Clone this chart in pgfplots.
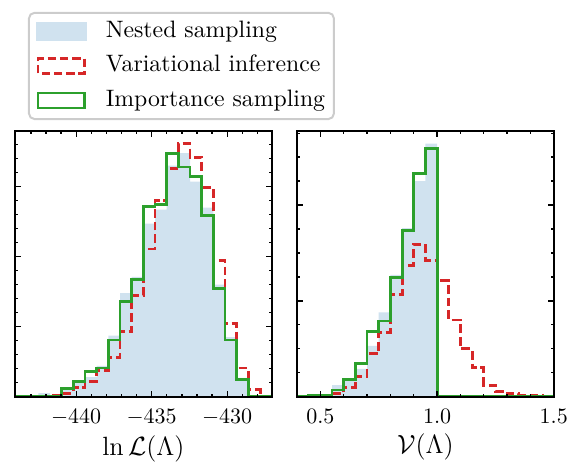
\documentclass[border=0pt]{standalone}
\usepackage{pgfplots}
\usepackage{pgfplotstable}
\pgfplotsset{compat=1.18}
\definecolor{nsfill}{RGB}{208,226,239}
\definecolor{vired}{RGB}{214,39,40}
\definecolor{isgreen}{RGB}{44,160,44}

% bin left edges; last row closes the histogram
\pgfplotstableread{
x        ns     vi     is
-444.050 0.005  0.000  0.000
-443.277 0.010  0.005  0.005
-442.505 0.050  0.010  0.010
-441.732 0.020  0.020  0.010
-440.959 0.100  0.050  0.120
-440.186 0.210  0.130  0.220
-439.414 0.280  0.220  0.360
-438.641 0.440  0.370  0.410
-437.868 0.870  0.560  0.810
-437.095 1.480  0.930  1.360
-436.323 1.710  1.450  1.670
-435.550 2.470  2.110  2.710
-434.777 2.670  2.800  2.740
-434.005 3.300  3.260  3.470
-433.232 3.480  3.620  3.280
-432.459 3.070  3.420  3.140
-431.686 2.700  2.990  2.590
-430.914 1.600  1.950  1.550
-430.141 0.850  1.040  0.810
-429.368 0.270  0.410  0.250
-428.595 0.020  0.100  0.010
-427.823 0.000  0.010  0.000
-427.050 0      0      0
}\lnLtable

\pgfplotstableread{
x     ns     vi     is
0.40  0.000  0.000  0.000
0.45  0.010  0.003  0.014
0.50  0.020  0.010  0.014
0.55  0.120  0.030  0.070
0.60  0.170  0.100  0.180
0.65  0.290  0.210  0.350
0.70  0.530  0.450  0.680
0.75  0.880  0.670  0.790
0.80  1.270  1.070  1.240
0.85  1.760  1.370  1.730
0.90  2.250  1.590  2.330
0.95  2.640  1.420  2.590
1.00  0      1.210  0
1.05  0      0.800  0
1.10  0      0.500  0
1.15  0      0.300  0
1.20  0      0.120  0
1.25  0      0.050  0
1.30  0      0.030  0
1.35  0      0.014  0
1.40  0      0.010  0
1.45  0      0.005  0
1.50  0      0      0
}\Vtable

\pgfplotsset{
  histaxis/.style={
    scale only axis, width=116.7pt, height=120.8pt,
    axis on top,
    axis line style={line width=0.9pt},
    tick align=inside, tick pos=both,
    major tick length=2.6pt, minor tick length=1.3pt,
    every tick/.style={black, line width=0.6pt},
    yticklabels={},
    xticklabel style={yshift=-2.2pt},
    xlabel style={font=\large, yshift=2pt},
  },
  nsstyle/.style={const plot, fill=nsfill, draw=none, forget plot},
  vistyle/.style={const plot, vired, line width=1.3pt, line join=miter, dash pattern=on 4pt off 1.8pt, forget plot},
  isstyle/.style={const plot, isgreen, line width=1.3pt, line join=miter, forget plot},
}

\begin{document}
\begin{tikzpicture}
\path[use as bounding box] (-6.82pt,-31.05pt) rectangle (255pt,180.3pt);

\begin{axis}[histaxis,
  at={(0pt,0pt)}, anchor=south west,
  xmin=-444.05, xmax=-427.05, ymin=0, ymax=3.796,
  xtick={-440,-435,-430},
  minor xtick={-444,-443,-442,-441,-439,-438,-437,-436,-434,-433,-432,-431,-429,-428},
  ytick={0,1,2,3},
  minor ytick={0.2,0.4,0.6,0.8,1.2,1.4,1.6,1.8,2.2,2.4,2.6,2.8,3.2,3.4,3.6},
  xlabel={$\ln\mathcal{L}(\Lambda)$},
  legend cell align=left,
  legend style={at={(0.0506,1.448)}, anchor=north west,
    draw=black!20, line width=0.9pt, rounded corners=2.5pt, fill=white,
    font=\fontsize{10.8}{12}\selectfont, row sep=3.6pt, column sep=7.6pt,
    inner xsep=3pt, inner ysep=2.4pt,
    nodes={inner sep=1pt, text height=7.6pt, text depth=2.5pt}},
]
\addlegendimage{legend image code/.code={\fill[nsfill, sharp corners] (0pt,-3.8pt) rectangle (22.4pt,3.8pt);}}
\addlegendentry{Nested sampling}
\addlegendimage{legend image code/.code={\draw[vired, sharp corners, line width=1.3pt, dash pattern=on 3.8pt off 1.8pt] (0.65pt,-3.4pt) rectangle (21.75pt,3.4pt);}}
\addlegendentry{Variational inference}
\addlegendimage{legend image code/.code={\draw[isgreen, sharp corners, line width=1.3pt] (0.65pt,-3.4pt) rectangle (21.75pt,3.4pt);}}
\addlegendentry{Importance sampling}

\addplot[nsstyle] table[x=x, y=ns] {\lnLtable} \closedcycle;
\addplot[vistyle] table[x=x, y=vi] {\lnLtable};
\addplot[isstyle] table[x=x, y=is] {\lnLtable};
\end{axis}

\begin{axis}[histaxis,
  at={(128.2pt,0pt)}, anchor=south west,
  xmin=0.4, xmax=1.5, ymin=0, ymax=2.774,
  xtick={0.5,1.0,1.5},
  minor xtick={0.6,0.7,0.8,0.9,1.1,1.2,1.3,1.4},
  xticklabel style={/pgf/number format/.cd, fixed, fixed zerofill, precision=1},
  ytick={0,1,2},
  minor ytick={0.25,0.5,0.75,1.25,1.5,1.75,2.25,2.5,2.75},
  xlabel={$\mathcal{V}(\Lambda)$},
]
\addplot[nsstyle] table[x=x, y=ns] {\Vtable} \closedcycle;
\addplot[vistyle] table[x=x, y=vi] {\Vtable};
\addplot[isstyle] table[x=x, y=is] {\Vtable};
\end{axis}
\end{tikzpicture}
\end{document}
